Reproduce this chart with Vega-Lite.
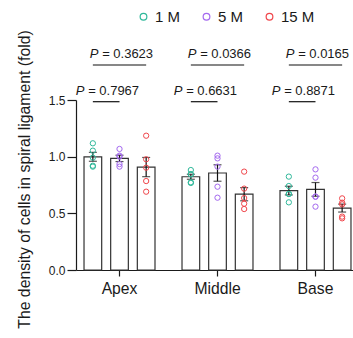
{
  "$schema": "https://vega.github.io/schema/vega-lite/v6.json",
  "width": 283,
  "height": 170,
  "autosize": {"type": "pad"},
  "padding": {"left": 16, "top": 9, "right": 0, "bottom": 0},
  "datasets": {
    "cells": [
      {"region": "Apex", "series": "1 M", "value": 1.118},
      {"region": "Apex", "series": "1 M", "value": 1.053},
      {"region": "Apex", "series": "1 M", "value": 0.991},
      {"region": "Apex", "series": "1 M", "value": 0.912},
      {"region": "Apex", "series": "1 M", "value": 0.920},
      {"region": "Apex", "series": "5 M", "value": 1.068},
      {"region": "Apex", "series": "5 M", "value": 1.000},
      {"region": "Apex", "series": "5 M", "value": 1.009},
      {"region": "Apex", "series": "5 M", "value": 0.912},
      {"region": "Apex", "series": "5 M", "value": 0.935},
      {"region": "Apex", "series": "15 M", "value": 1.185},
      {"region": "Apex", "series": "15 M", "value": 0.977},
      {"region": "Apex", "series": "15 M", "value": 0.903},
      {"region": "Apex", "series": "15 M", "value": 0.785},
      {"region": "Apex", "series": "15 M", "value": 0.691},
      {"region": "Middle", "series": "1 M", "value": 0.882},
      {"region": "Middle", "series": "1 M", "value": 0.845},
      {"region": "Middle", "series": "1 M", "value": 0.845},
      {"region": "Middle", "series": "1 M", "value": 0.768},
      {"region": "Middle", "series": "1 M", "value": 0.774},
      {"region": "Middle", "series": "5 M", "value": 1.009},
      {"region": "Middle", "series": "5 M", "value": 0.985},
      {"region": "Middle", "series": "5 M", "value": 0.912},
      {"region": "Middle", "series": "5 M", "value": 0.735},
      {"region": "Middle", "series": "5 M", "value": 0.638},
      {"region": "Middle", "series": "15 M", "value": 0.868},
      {"region": "Middle", "series": "15 M", "value": 0.718},
      {"region": "Middle", "series": "15 M", "value": 0.635},
      {"region": "Middle", "series": "15 M", "value": 0.585},
      {"region": "Middle", "series": "15 M", "value": 0.538},
      {"region": "Base", "series": "1 M", "value": 0.824},
      {"region": "Base", "series": "1 M", "value": 0.741},
      {"region": "Base", "series": "1 M", "value": 0.671},
      {"region": "Base", "series": "1 M", "value": 0.671},
      {"region": "Base", "series": "1 M", "value": 0.597},
      {"region": "Base", "series": "5 M", "value": 0.888},
      {"region": "Base", "series": "5 M", "value": 0.815},
      {"region": "Base", "series": "5 M", "value": 0.647},
      {"region": "Base", "series": "5 M", "value": 0.647},
      {"region": "Base", "series": "5 M", "value": 0.559},
      {"region": "Base", "series": "15 M", "value": 0.632},
      {"region": "Base", "series": "15 M", "value": 0.579},
      {"region": "Base", "series": "15 M", "value": 0.594},
      {"region": "Base", "series": "15 M", "value": 0.456},
      {"region": "Base", "series": "15 M", "value": 0.471}
    ],
    "pvals": [
      {"region": "Apex", "comparison": "1 M vs 15 M", "a": "1 M", "b": "15 M", "p": 0.3623},
      {"region": "Middle", "comparison": "1 M vs 15 M", "a": "1 M", "b": "15 M", "p": 0.0366},
      {"region": "Base", "comparison": "1 M vs 15 M", "a": "1 M", "b": "15 M", "p": 0.0165},
      {"region": "Apex", "comparison": "1 M vs 5 M", "a": "1 M", "b": "5 M", "p": 0.7967},
      {"region": "Middle", "comparison": "1 M vs 5 M", "a": "1 M", "b": "5 M", "p": 0.6631},
      {"region": "Base", "comparison": "1 M vs 5 M", "a": "1 M", "b": "5 M", "p": 0.8871}
    ]
  },
  "config": {
    "view": {"stroke": null},
    "font": "Liberation Sans",
    "text": {"font": "Liberation Sans", "color": "#1a1a1a"},
    "axis": {
      "domainColor": "#1a1a1a", "tickColor": "#1a1a1a", "labelColor": "#1a1a1a", "titleColor": "#1a1a1a",
      "grid": false, "domainWidth": 1.2, "tickWidth": 1.2,
      "labelFont": "Liberation Sans", "titleFont": "Liberation Sans", "titleFontWeight": "normal"
    },
    "legend": {
      "labelFont": "Liberation Sans", "labelFontSize": 15, "labelColor": "#1a1a1a",
      "symbolSize": 45, "symbolStrokeWidth": 1.2, "labelOffset": 4, "columnPadding": 18
    }
  },
  "encoding": {
    "x": {
      "field": "region", "type": "nominal", "title": null,
      "scale": {"domain": ["Apex", "Middle", "Base"], "paddingInner": 0.184, "paddingOuter": 0.036},
      "axis": {"labelAngle": 0, "labelFontSize": 15.7, "tickSize": 6, "labelPadding": 5}
    }
  },
  "layer": [
    {
      "data": {"name": "cells"},
      "mark": {"type": "bar", "fill": "white", "stroke": "#333333", "strokeWidth": 1.2},
      "encoding": {
        "xOffset": {"field": "series", "type": "nominal", "scale": {"domain": ["1 M", "5 M", "15 M"], "paddingInner": 0.337, "paddingOuter": 0.1685}},
        "y": {
          "aggregate": "mean", "field": "value", "type": "quantitative",
          "title": "The density of cells in spiral ligament (fold)",
          "scale": {"domain": [0, 1.5], "nice": false},
          "axis": {"values": [0, 0.5, 1, 1.5], "format": ".1f", "labelFontSize": 12, "tickSize": 9, "labelPadding": 2, "titleFontSize": 15.8, "titlePadding": 16, "titleY": 79}
        }
      }
    },
    {
      "data": {"name": "cells"},
      "mark": {"type": "errorbar", "extent": "stderr", "ticks": true, "size": 8, "thickness": 1.2, "color": "#111111"},
      "encoding": {
        "xOffset": {"field": "series", "type": "nominal"},
        "y": {"field": "value", "type": "quantitative", "title": "The density of cells in spiral ligament (fold)"}
      }
    },
    {
      "data": {"name": "cells"},
      "mark": {"type": "point", "filled": false, "size": 28, "strokeWidth": 1, "opacity": 1},
      "encoding": {
        "xOffset": {"field": "series", "type": "nominal"},
        "y": {"field": "value", "type": "quantitative", "title": "The density of cells in spiral ligament (fold)"},
        "color": {
          "field": "series", "type": "nominal",
          "scale": {"domain": ["1 M", "5 M", "15 M"], "range": ["#2fb89a", "#a469ef", "#f0464b"]},
          "legend": {"title": null, "orient": "none", "direction": "horizontal", "legendX": 60, "legendY": -91}
        }
      }
    },
    {
      "data": {"name": "pvals"},
      "transform": [{"filter": "datum.comparison === '1 M vs 15 M'"}, {"fold": ["a", "b"], "as": ["end", "series"]}],
      "mark": {"type": "line", "color": "#111111", "strokeWidth": 1.2},
      "encoding": {
        "xOffset": {"field": "series", "type": "nominal"},
        "y": {"datum": 1.809, "type": "quantitative"},
        "detail": {"field": "region", "type": "nominal"}
      }
    },
    {
      "data": {"name": "pvals"},
      "transform": [{"filter": "datum.comparison === '1 M vs 5 M'"}, {"fold": ["a", "b"], "as": ["end", "series"]}],
      "mark": {"type": "line", "color": "#111111", "strokeWidth": 1.2},
      "encoding": {
        "xOffset": {"field": "series", "type": "nominal"},
        "y": {"datum": 1.485, "type": "quantitative"},
        "detail": {"field": "region", "type": "nominal"}
      }
    },
    {
      "data": {"name": "pvals"},
      "transform": [{"filter": "datum.comparison === '1 M vs 15 M'"}],
      "encoding": {"y": {"datum": 1.868, "type": "quantitative"}},
      "layer": [
        {"mark": {"type": "text", "text": "P", "fontStyle": "italic", "align": "right", "baseline": "alphabetic", "dx": -21, "fontSize": 13}},
        {"mark": {"type": "text", "text": "=", "align": "center", "baseline": "alphabetic", "dx": -13.5, "fontSize": 13}},
        {"mark": {"type": "text", "align": "left", "baseline": "alphabetic", "dx": -6.2, "fontSize": 13},
         "encoding": {"text": {"field": "p", "type": "quantitative", "format": ".4f"}}}
      ]
    },
    {
      "data": {"name": "pvals"},
      "transform": [{"filter": "datum.comparison === '1 M vs 5 M'"}],
      "encoding": {"y": {"datum": 1.544, "type": "quantitative"}},
      "layer": [
        {"mark": {"type": "text", "text": "P", "fontStyle": "italic", "align": "right", "baseline": "alphabetic", "dx": -35, "fontSize": 13}},
        {"mark": {"type": "text", "text": "=", "align": "center", "baseline": "alphabetic", "dx": -27.5, "fontSize": 13}},
        {"mark": {"type": "text", "align": "left", "baseline": "alphabetic", "dx": -20.2, "fontSize": 13},
         "encoding": {"text": {"field": "p", "type": "quantitative", "format": ".4f"}}}
      ]
    }
  ]
}
